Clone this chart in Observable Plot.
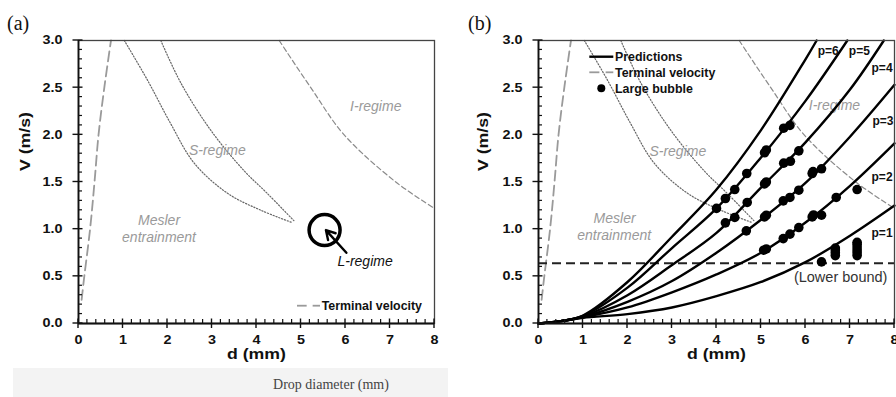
<!DOCTYPE html>
<html><head><meta charset="utf-8">
<script src="https://cdn.jsdelivr.net/npm/d3@7"></script>
<script src="https://cdn.jsdelivr.net/npm/@observablehq/plot@0.6"></script>
<style>
html,body{margin:0;padding:0;background:#fff}
body{width:896px;height:397px;overflow:hidden;position:relative;font-family:"Liberation Sans",Arial,sans-serif}
#a,#b{position:absolute;top:0}
#a{left:0}#b{left:448px}
.tag{position:absolute;font-family:"Liberation Serif","Times New Roman",serif;font-size:20px;color:#111;line-height:1}
#cap{position:absolute;left:13px;top:368px;width:435px;height:29px;background:#f3f3f3}
#cap span{position:absolute;left:318px;top:9px;transform:translateX(-50%);font-family:"Liberation Serif","Times New Roman",serif;font-size:14px;color:#444;white-space:nowrap}
</style></head>
<body>
<div id="cap"><span>Drop diameter (mm)</span></div>
<div id="a"></div><div id="b"></div>
<div class="tag" style="left:7px;top:13px">(a)</div>
<div class="tag" style="left:468px;top:13px">(b)</div>
<script>
// ---- tick values ----
const xMajor = [0,1,2,3,4,5,6,7,8];
const yMajor = [0,0.5,1,1.5,2,2.5,3];
const xMinor = d3.range(0, 8.001, 0.2).filter(v => Math.abs(v - Math.round(v)) > 1e-6);
const yMinor = d3.range(0, 3.001, 0.1).filter(v => Math.abs(v*2 - Math.round(v*2)) > 1e-6);

// ---- regime boundaries (d mm, V m/s) ----
const terminalVelocity = [[0.07,0.25],[0.13,0.5],[0.26,1.0],[0.36,1.5],[0.45,2.0],[0.58,2.5],[0.73,3.0]];
const sRegimeLower = [[1.03,3.0],[1.55,2.58],[2.07,2.12],[2.6,1.70],[3.35,1.38],[4.1,1.20],[4.8,1.07]];
const sRegimeUpper = [[1.85,3.0],[2.3,2.55],[2.97,2.05],[3.72,1.62],[4.24,1.38],[4.84,1.09]];
const iRegime = [[4.51,3.0],[5.22,2.5],[5.97,2.0],[7.13,1.5],[8.0,1.22]];

// ---- predictions p = 1..6 ----
const pred1 = [[0,0],[0.5,0.025],[1,0.06],[2,0.10],[3,0.17],[4,0.29],[5,0.44],[6,0.65],[7,0.93],[8,1.25]];
const pred2 = [[0,0],[0.5,0.025],[1,0.065],[2,0.17],[3,0.33],[4,0.52],[5,0.75],[6,1.07],[7,1.46],[8,1.91]];
const pred3 = [[0,0],[0.5,0.025],[1,0.07],[2,0.23],[3,0.45],[4,0.75],[5,1.10],[6,1.49],[7,1.98],[8,2.53]];
const pred4 = [[0,0],[0.5,0.025],[1,0.075],[2,0.30],[3,0.62],[4,0.96],[5,1.44],[6,1.92],[7,2.48],[7.76,3.0]];
const pred5 = [[0,0],[0.5,0.025],[1,0.08],[2,0.38],[3,0.80],[4,1.22],[5,1.76],[6,2.36],[6.94,3.0]];
const pred6 = [[0,0],[0.5,0.025],[1,0.085],[2,0.44],[3,0.92],[4,1.42],[5,2.05],[6,2.80],[6.25,3.0]];
const predictions = [pred1,pred2,pred3,pred4,pred5,pred6];

// ---- large bubble measurements ----
const bubbleD = [4.0,4.2,4.41,4.68,5.08,5.12,5.51,5.65,
  4.2,4.41,4.69,5.08,5.12,5.51,5.66,5.85,
  4.67,5.08,5.12,5.50,5.65,5.85,6.15,6.17,6.36,
  5.06,5.12,5.50,5.65,5.85,6.15,6.18,6.36,6.69,
  7.16,6.36,6.67,6.67,6.67,6.67,7.16,7.16,7.16,7.16,7.16,7.16];
const bubbleV = [1.22,1.325,1.42,1.59,1.81,1.84,2.07,2.10,
  1.067,1.124,1.283,1.48,1.50,1.70,1.72,1.83,
  0.982,1.13,1.148,1.30,1.336,1.413,1.59,1.61,1.64,
  0.777,0.79,0.90,0.947,1.017,1.13,1.15,1.148,1.336,
  1.42,0.653,0.72,0.75,0.78,0.80,0.72,0.75,0.78,0.81,0.84,0.86];
const lowerBound = 0.64;

// ---- labels ----
const pLabels = ["p=6","p=5","p=4","p=3","p=2","p=1"];
const pLabelD = [6.51,7.21,7.72,7.74,7.72,7.72];
const pLabelV = [2.89,2.89,2.71,2.15,1.555,0.954];
const regimeA = [["I-regime",6.68,2.30],["S-regime",3.12,1.83],["Mesler",1.81,1.09],["entrainment",1.81,0.91]];
const regimeB = [["I-regime",6.65,2.31],["S-regime",3.13,1.82],["Mesler",1.71,1.11],["entrainment",1.70,0.936]];
const lRegimeCircle = [5.53,0.99];
const lRegimeArrow = [6.02,0.75,5.56,0.99];
const lRegimeLabel = ["L-regime",6.44,0.653];
const lowerBoundLabel = ["(Lower bound)",6.79,0.49];

const PW = 356, PH = 283, H = 374;
const FONT = '"Liberation Sans", Arial, sans-serif';

function frameMarks() {
  return [
    Plot.frame({stroke:"#444", strokeWidth:1.3}),
    Plot.ruleX([0], {stroke:"#111", strokeWidth:1.8}),
    Plot.ruleY([0], {stroke:"#111", strokeWidth:1.8}),
    Plot.axisX(xMajor, {tickSize:0, tickPadding:12, fontSize:12, fontWeight:"bold", fill:"#111", label:null}),
    Plot.axisY(yMajor, {tickSize:0, tickPadding:16, fontSize:12, fontWeight:"bold", fill:"#111", tickFormat:d3.format(".1f"), label:null}),
    Plot.text(["d (mm)"], {frameAnchor:"bottom", dy:35.5, fontSize:14.5, fontWeight:"bold", fill:"#111", className:"axtitle"})
  ];
}
function regimeLines() {
  return [
    Plot.line(terminalVelocity, {x:d=>d[0], y:d=>d[1], stroke:"#9a9a9a", strokeWidth:1.8, strokeDasharray:"10,5", curve:"catmull-rom"}),
    Plot.line(sRegimeLower, {x:d=>d[0], y:d=>d[1], stroke:"#666", strokeWidth:1.2, strokeDasharray:"1.2,1.8", curve:"catmull-rom"}),
    Plot.line(sRegimeUpper, {x:d=>d[0], y:d=>d[1], stroke:"#666", strokeWidth:1.2, strokeDasharray:"1.2,1.8", curve:"catmull-rom"}),
    Plot.line(iRegime, {x:d=>d[0], y:d=>d[1], stroke:"#8a8a8a", strokeWidth:1.2, strokeDasharray:"5,3", curve:"catmull-rom"})
  ];
}
function regimeText(list) {
  return Plot.text(list, {x:d=>d[1], y:d=>d[2], text:d=>d[0], fill:"#9a9a9a", fontStyle:"italic", fontSize:14});
}

// ---------- panel (a) ----------
const mlA = 78;
const plotA = Plot.plot({
  width:448, height:H, marginLeft:mlA, marginRight:448-mlA-PW, marginTop:40, marginBottom:H-40-PH,
  x:{domain:[0,8], axis:null}, y:{domain:[0,3], axis:null},
  style:{fontFamily:FONT, background:"transparent", overflow:"visible"},
  marks:[
    ...regimeLines(),
    regimeText(regimeA),
    Plot.dot([lRegimeCircle], {x:d=>d[0], y:d=>d[1], r:15.5, stroke:"#000", strokeWidth:3.5, fill:"none"}),
    Plot.arrow([lRegimeArrow], {x1:d=>d[0], y1:d=>d[1], x2:d=>d[2], y2:d=>d[3], stroke:"#000", strokeWidth:2.4, headLength:9}),
    Plot.text([lRegimeLabel], {x:d=>d[1], y:d=>d[2], text:d=>d[0], fill:"#111", fontStyle:"italic", fontSize:14}),
    ...frameMarks(),
    Plot.text(["V (m/s)"], {frameAnchor:"left", dx:-53, dy:-11, rotate:-90, fontSize:14.5, fontWeight:"bold", fill:"#111", className:"axtitle"})
  ]
});
document.getElementById("a").append(plotA);

// ---------- panel (b) ----------
const mlB = 90;
const plotB = Plot.plot({
  width:448, height:H, marginLeft:mlB, marginRight:448-mlB-PW, marginTop:40, marginBottom:H-40-PH,
  x:{domain:[0,8], axis:null}, y:{domain:[0,3], axis:null},
  style:{fontFamily:FONT, background:"transparent", overflow:"visible"},
  marks:[
    ...regimeLines(),
    regimeText(regimeB),
    Plot.ruleY([lowerBound], {stroke:"#222", strokeWidth:2, strokeDasharray:"9,5"}),
    ...predictions.map(p => Plot.line(p, {x:d=>d[0], y:d=>d[1], stroke:"#000", strokeWidth:2.4, curve:"catmull-rom"})),
    Plot.dot(bubbleD, {x:d=>d, y:(d,i)=>bubbleV[i], r:4.8, fill:"#000", stroke:"none"}),
    Plot.text(pLabels, {x:(d,i)=>pLabelD[i], y:(d,i)=>pLabelV[i], text:d=>d, fontSize:12, fontWeight:"bold", fill:"#111"}),
    Plot.text([lowerBoundLabel], {x:d=>d[1], y:d=>d[2], text:d=>d[0], fontSize:14.5, fill:"#333"}),
    ...frameMarks(),
    Plot.text(["V (m/s)"], {frameAnchor:"left", dx:-55, dy:-11, rotate:-90, fontSize:14.5, fontWeight:"bold", fill:"#111", className:"axtitle"})
  ]
});
document.getElementById("b").append(plotB);

// ---------- inward minor / crossing major ticks, placed with the plot's own scales ----------
function drawTicks(svg) {
  const sx = svg.scale("x"), sy = svg.scale("y");
  const X = v => sx.apply(v), Y = v => sy.apply(v);
  const x0 = X(0), y0 = Y(0);
  const g = d3.select(svg).append("g").attr("stroke", "#111");
  for (const v of xMinor) g.append("line").attr("x1", X(v)).attr("x2", X(v)).attr("y1", y0).attr("y2", y0 - 4).attr("stroke-width", 1.2);
  for (const v of xMajor) g.append("line").attr("x1", X(v)).attr("x2", X(v)).attr("y1", y0 + 5).attr("y2", y0 - 4.5).attr("stroke-width", 1.4);
  for (const v of yMinor) g.append("line").attr("y1", Y(v)).attr("y2", Y(v)).attr("x1", x0).attr("x2", x0 + 4).attr("stroke-width", 1.2);
  for (const v of yMajor) g.append("line").attr("y1", Y(v)).attr("y2", Y(v)).attr("x1", x0 - 5.5).attr("x2", x0 + 4.5).attr("stroke-width", 1.4);
}
drawTicks(plotA);
drawTicks(plotB);

// ---------- widen bold axis texts (the reference font is horizontally stretched) ----------
function stretch(svg, sel, k) {
  svg.querySelectorAll(sel).forEach(t => {
    const L = t.getComputedTextLength();
    if (L > 0) { t.setAttribute("textLength", (L * k).toFixed(1)); t.setAttribute("lengthAdjust", "spacingAndGlyphs"); }
  });
}
for (const s of [plotA, plotB]) {
  stretch(s, 'g[aria-label="x-axis tick label"] text', 1.2);
  stretch(s, 'g[aria-label="y-axis tick label"] text', 1.2);
  stretch(s, 'g.axtitle text', 1.22);
}

// ---------- legends ----------
function legendItem(svg, x0, x1, y, kind, label, textX) {
  const g = d3.select(svg).append("g");
  if (kind === "line") g.append("line").attr("x1",x0).attr("x2",x1).attr("y1",y).attr("y2",y).attr("stroke","#000").attr("stroke-width",2.4);
  if (kind === "dash") {
    g.append("line").attr("x1",x0).attr("x2",x0+(x1-x0)*0.42).attr("y1",y).attr("y2",y).attr("stroke","#9a9a9a").attr("stroke-width",1.8);
    g.append("line").attr("x1",x0+(x1-x0)*0.68).attr("x2",x1).attr("y1",y).attr("y2",y).attr("stroke","#9a9a9a").attr("stroke-width",1.8);
  }
  if (kind === "dot") g.append("circle").attr("cx",(x0+x1)/2).attr("cy",y).attr("r",4).attr("fill","#000");
  g.append("text").attr("x",textX).attr("y",y).attr("dy","0.35em").attr("text-anchor","start")
    .attr("font-size",12.4).attr("font-weight","bold").attr("font-family",FONT).attr("fill","#111").text(label);
}
legendItem(plotA, 297, 320, 305.7, "dash", "Terminal velocity", 321.7);
legendItem(plotB, 141.3, 165.3, 56.7, "line", "Predictions", 167);
legendItem(plotB, 141.3, 165.3, 72.3, "dash", "Terminal velocity", 167);
legendItem(plotB, 141.3, 165.3, 88.3, "dot", "Large bubble", 167);
</script>
</body></html>
